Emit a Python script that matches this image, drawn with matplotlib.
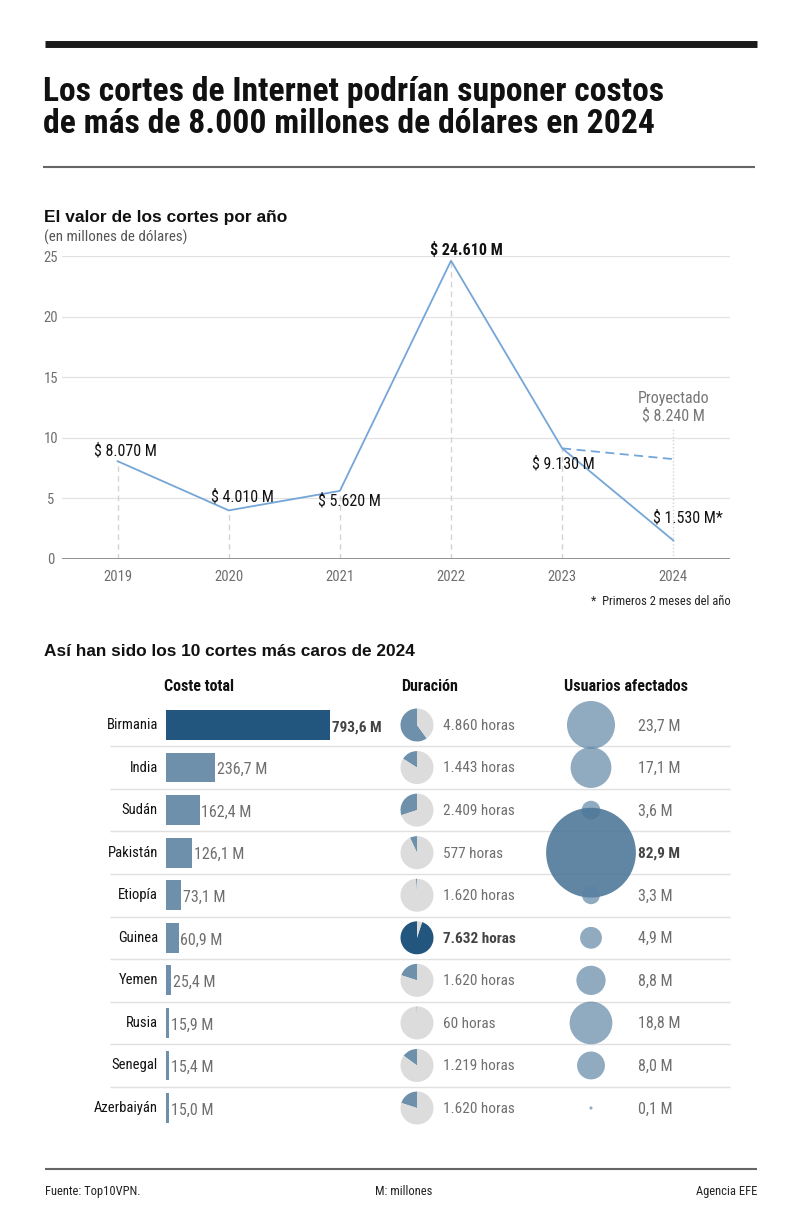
import numpy as np
import matplotlib
matplotlib.use("Agg")
import matplotlib.pyplot as plt
from matplotlib.lines import Line2D

# ---- data ----
years = [2019, 2020, 2021, 2022, 2023, 2024]
cost_year = [8.07, 4.01, 5.62, 24.61, 9.13, 1.53]
year_labels = ["$ 8.070 M", "$ 4.010 M", "$ 5.620 M", "$ 24.610 M", "$ 9.130 M", "$ 1.530 M*"]
projected_2024 = 8.24
projected_label = "$ 8.240 M"

countries = ["Birmania", "India", "Sudán", "Pakistán", "Etiopía",
             "Guinea", "Yemen", "Rusia", "Senegal", "Azerbaiyán"]
cost_m = [793.6, 236.7, 162.4, 126.1, 73.1, 60.9, 25.4, 15.9, 15.4, 15.0]
cost_labels = ["793,6 M", "236,7 M", "162,4 M", "126,1 M", "73,1 M",
               "60,9 M", "25,4 M", "15,9 M", "15,4 M", "15,0 M"]
hours = ["4.860 horas", "1.443 horas", "2.409 horas", "577 horas", "1.620 horas",
         "7.632 horas", "1.620 horas", "60 horas", "1.219 horas", "1.620 horas"]
pie_share = [0.60, 0.16, 0.30, 0.07, 0.01, 0.95, 0.20, 0.006, 0.15, 0.20]
users_m = [23.7, 17.1, 3.6, 82.9, 3.3, 4.9, 8.8, 18.8, 8.0, 0.1]
users_labels = ["23,7 M", "17,1 M", "3,6 M", "82,9 M", "3,3 M",
                "4,9 M", "8,8 M", "18,8 M", "8,0 M", "0,1 M"]

NARROW = ["Roboto Condensed", "Liberation Sans", "DejaVu Sans"]
WIDE = ["Liberation Sans", "DejaVu Sans"]
DARK = "#23567e"
MID = "#6e90aa"
LIGHT = "#dcdcdc"
GRAY = "#6f6f6f"
LINE = "#74a6d8"

W, H = 800, 1231
fig = plt.figure(figsize=(W / 100, H / 100), dpi=100)


def fx(x):
    return x / W


def fy(y):
    return 1 - y / H


def hline(x0, x1, y, lw, color):
    fig.add_artist(Line2D([fx(x0), fx(x1)], [fy(y), fy(y)], lw=lw, color=color,
                          solid_capstyle="butt", transform=fig.transFigure))


# header
hline(45, 757, 44, 5, "#1a1a1a")
fig.text(fx(43), fy(101), "Los cortes de Internet podrían suponer costos", family=NARROW,
         weight="bold", fontsize=24.2, color="#111111", va="baseline")
fig.text(fx(43), fy(133), "de más de 8.000 millones de dólares en 2024", family=NARROW,
         weight="bold", fontsize=24.2, color="#111111", va="baseline")
hline(43, 755, 167, 1.5, "#666666")

fig.text(fx(44), fy(222), "El valor de los cortes por año", family=WIDE, weight="bold",
         fontsize=12.5, color="#111111", va="baseline")
fig.text(fx(44), fy(242), "(en millones de dólares)", family=NARROW, fontsize=10.8,
         color="#555555", va="baseline")

# ---- line chart ----
ax = fig.add_axes([fx(62), fy(559), (730 - 62) / W, (559 - 256) / H])
ax.set_xlim(2018.5, 2024.51)
ax.set_ylim(0, 25)
for s in ax.spines.values():
    s.set_visible(False)
ax.set_yticks([0, 5, 10, 15, 20, 25])
ax.set_xticks(years)
ax.tick_params(length=0, labelcolor=GRAY, labelsize=10.5)
ax.tick_params(axis="y", pad=8)
ax.tick_params(axis="x", pad=8)
for lab in ax.get_yticklabels():
    lab.set_horizontalalignment("center")
    lab.set_family(NARROW)
for lab in ax.get_xticklabels():
    lab.set_family(NARROW)
for v in [5, 10, 15, 20, 25]:
    ax.axhline(v, color="#e2e2e2", lw=0.9, zorder=0)
ax.axhline(0, color="#8a8a8a", lw=1.3, zorder=1)

guide_top = list(cost_year)
guide_top[-1] = 10.7
ax.vlines(years[:-1], 0, guide_top[:-1], colors="#d4d4d4", lw=1, linestyles=(0, (4, 3)),
          zorder=0)
ax.vlines(years[-1:], 0, guide_top[-1:], colors="#d4d4d4", lw=1, linestyles=(0, (1, 1.5)),
          zorder=0)
ax.plot(years, cost_year, color=LINE, lw=1.3, zorder=3)
ax.plot([years[4], years[5]], [cost_year[4], projected_2024], color=LINE, lw=1.3,
        ls=(0, (5, 3)), zorder=3)

label_dx = [0.07, 0.12, 0.09, 0.14, 0.01, 0.135]
label_dy = [0.84, 1.1, -0.83, 0.89, -1.29, 1.85]
for i in range(len(years)):
    ax.text(years[i] + label_dx[i], cost_year[i] + label_dy[i], year_labels[i],
            ha="center", va="center", family=NARROW, fontsize=11.5,
            weight="bold" if i == 3 else "normal", color="#111111", clip_on=False)
ax.text(2024, 13.28, "Proyectado", ha="center", va="center", family=NARROW,
        fontsize=11.5, color="#777777")
ax.text(2024, 11.8, projected_label, ha="center", va="center", family=NARROW,
        fontsize=11.5, color="#777777")
fig.text(fx(731), fy(605), "*  Primeros 2 meses del año", ha="right", va="baseline",
         family=NARROW, fontsize=9, color="#222222")

# ---- table ----
fig.text(fx(44), fy(656), "Así han sido los 10 cortes más caros de 2024", family=WIDE,
         weight="bold", fontsize=12.4, color="#111111", va="baseline")
fig.text(fx(164), fy(691), "Coste total", family=NARROW, weight="bold", fontsize=11.5,
         color="#111111", va="baseline")
fig.text(fx(430), fy(691), "Duración", family=NARROW, weight="bold", fontsize=11.5,
         color="#111111", va="baseline", ha="center")
fig.text(fx(626), fy(691), "Usuarios afectados", family=NARROW, weight="bold",
         fontsize=11.5, color="#111111", va="baseline", ha="center")

row0, step = 725, 42.56
n = len(countries)
top_px = row0 - step / 2
bot_px = row0 + step * (n - 0.5)
rows = np.arange(n)

tab = fig.add_axes([0, fy(bot_px), 1, (bot_px - top_px) / H])
tab.set_xlim(0, W)
tab.set_ylim(n - 0.5, -0.5)
tab.axis("off")
tab.hlines(rows[:-1] + 0.5, 110, 730, colors="#e0e0e0", lw=1)
for i in rows:
    tab.text(158, i, countries[i], ha="right", va="center", family=NARROW,
             fontsize=10.5, color="#111111")
    hb = countries[i] == "Guinea"
    tab.text(443, i + 0.02, hours[i], ha="left", va="center", family=NARROW,
             fontsize=11, color="#444444" if hb else GRAY,
             weight="bold" if hb else "normal")
    ub = countries[i] == "Pakistán"
    tab.text(638, i + 0.02, users_labels[i], ha="left", va="center", family=NARROW,
             fontsize=11 if ub else 11.5, color="#444444" if ub else GRAY,
             weight="bold" if ub else "normal")

# bars
bw = 200
bax = fig.add_axes([fx(166), fy(bot_px), bw / W, (bot_px - top_px) / H])
bax.set_xlim(0, bw / (164 / 793.6))
bax.set_ylim(n - 0.5, -0.5)
bax.axis("off")
bar_colors = [DARK if c == max(cost_m) else MID for c in cost_m]
bax.barh(rows, cost_m, height=0.70, color=bar_colors)
for i in rows:
    top = cost_m[i] == max(cost_m)
    bax.text(cost_m[i] + 8, i + 0.05, cost_labels[i], ha="left", va="center",
             family=NARROW, fontsize=11 if top else 11.5, color="#444444" if top else GRAY,
             weight="bold" if top else "normal", clip_on=False)

# pies
pr = 16.5
for i in rows:
    cy = row0 + step * i
    pax = fig.add_axes([fx(417 - pr), fy(cy + pr), 2 * pr / W, 2 * pr / H])
    dark = DARK if countries[i] == "Guinea" else MID
    pax.pie([pie_share[i], 1 - pie_share[i]], colors=[dark, LIGHT], startangle=90,
            counterclock=True, wedgeprops=dict(linewidth=0))
    pax.set_xlim(-1, 1)
    pax.set_ylim(-1, 1)

# bubbles
uax = fig.add_axes([fx(541), fy(bot_px), 100 / W, (bot_px - top_px) / H])
uax.set_xlim(-1, 1)
uax.set_ylim(n - 0.5, -0.5)
uax.axis("off")
ucol = ["#4a7598" if c == "Pakistán" else "#5b82a3" for c in countries]
ualpha = [0.88 if c == "Pakistán" else 0.68 for c in countries]
for i in rows:
    uax.scatter(0, i, s=50.4 * users_m[i], color=ucol[i], alpha=ualpha[i],
                edgecolors="none", clip_on=False, zorder=3)

# footer
hline(45, 757, 1169, 1.5, "#666666")
fig.text(fx(45), fy(1195), "Fuente: Top10VPN.", family=NARROW, fontsize=9,
         color="#222222", va="baseline")
fig.text(fx(404), fy(1195), "M: millones", family=NARROW, fontsize=9,
         color="#222222", va="baseline", ha="center")
fig.text(fx(757), fy(1195), "Agencia EFE", family=NARROW, fontsize=9,
         color="#222222", va="baseline", ha="right")

fig.savefig("out.png", dpi=100, facecolor="white")
